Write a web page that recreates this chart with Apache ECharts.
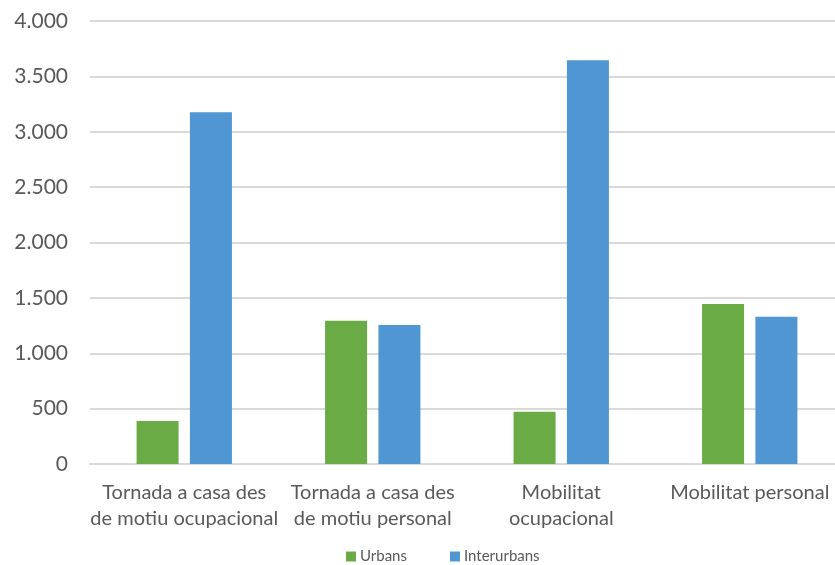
<!DOCTYPE html>
<html>
<head>
<meta charset="utf-8">
<script src="https://cdn.jsdelivr.net/npm/echarts@6/dist/echarts.min.js"></script>
<style>
html,body{margin:0;padding:0;background:#fff;}
#chart{width:835px;height:565px;}
</style>
</head>
<body>
<div id="chart"></div>
<script>
const categories = ["Tornada a casa des\nde motiu ocupacional", "Tornada a casa des\nde motiu personal", "Mobilitat\nocupacional", "Mobilitat personal"];
const urbans = [388, 1293, 472, 1444];
const interurbans = [3176, 1254, 3645, 1329];
const seriesNames = ["Urbans", "Interurbans"];

const chart = echarts.init(document.getElementById('chart'));
const font = 'Lato, "Liberation Sans", sans-serif';
chart.setOption({
  animation: false,
  textStyle: { fontFamily: font },
  grid: { left: 90, right: -9, top: 21, bottom: 101, containLabel: false, outerBoundsMode: 'none' },
  legend: {
    top: 549,
    left: 346,
    padding: 0,
    itemWidth: 10,
    itemHeight: 10,
    itemGap: 43,
    icon: 'rect',
    textStyle: { fontSize: 15, color: '#595959', fontFamily: font, padding: [0, 0, 0, -1] },
    data: seriesNames
  },
  xAxis: {
    type: 'category',
    data: categories,
    axisLine: { show: true, lineStyle: { color: '#d9d9d9', width: 2 } },
    axisTick: { show: false },
    axisLabel: { color: '#595959', fontSize: 20, lineHeight: 26, margin: 16, interval: 0, fontFamily: font }
  },
  yAxis: {
    type: 'value',
    min: 0,
    max: 4000,
    interval: 500,
    axisLine: { show: false },
    axisTick: { show: false },
    splitLine: { lineStyle: { color: '#d9d9d9', width: 2 } },
    axisLabel: {
      color: '#595959', fontSize: 21, margin: 22, fontFamily: font,
      formatter: v => v >= 1000 ? Math.floor(v / 1000) + '.' + String(v % 1000).padStart(3, '0') : String(v)
    }
  },
  series: [
    { name: seriesNames[0], type: 'bar', data: urbans, barWidth: 42, barGap: '27%', itemStyle: { color: '#6AAB46' } },
    { name: seriesNames[1], type: 'bar', data: interurbans, barWidth: 42, barGap: '27%', itemStyle: { color: '#4F96D3' } }
  ]
});
</script>
</body>
</html>
